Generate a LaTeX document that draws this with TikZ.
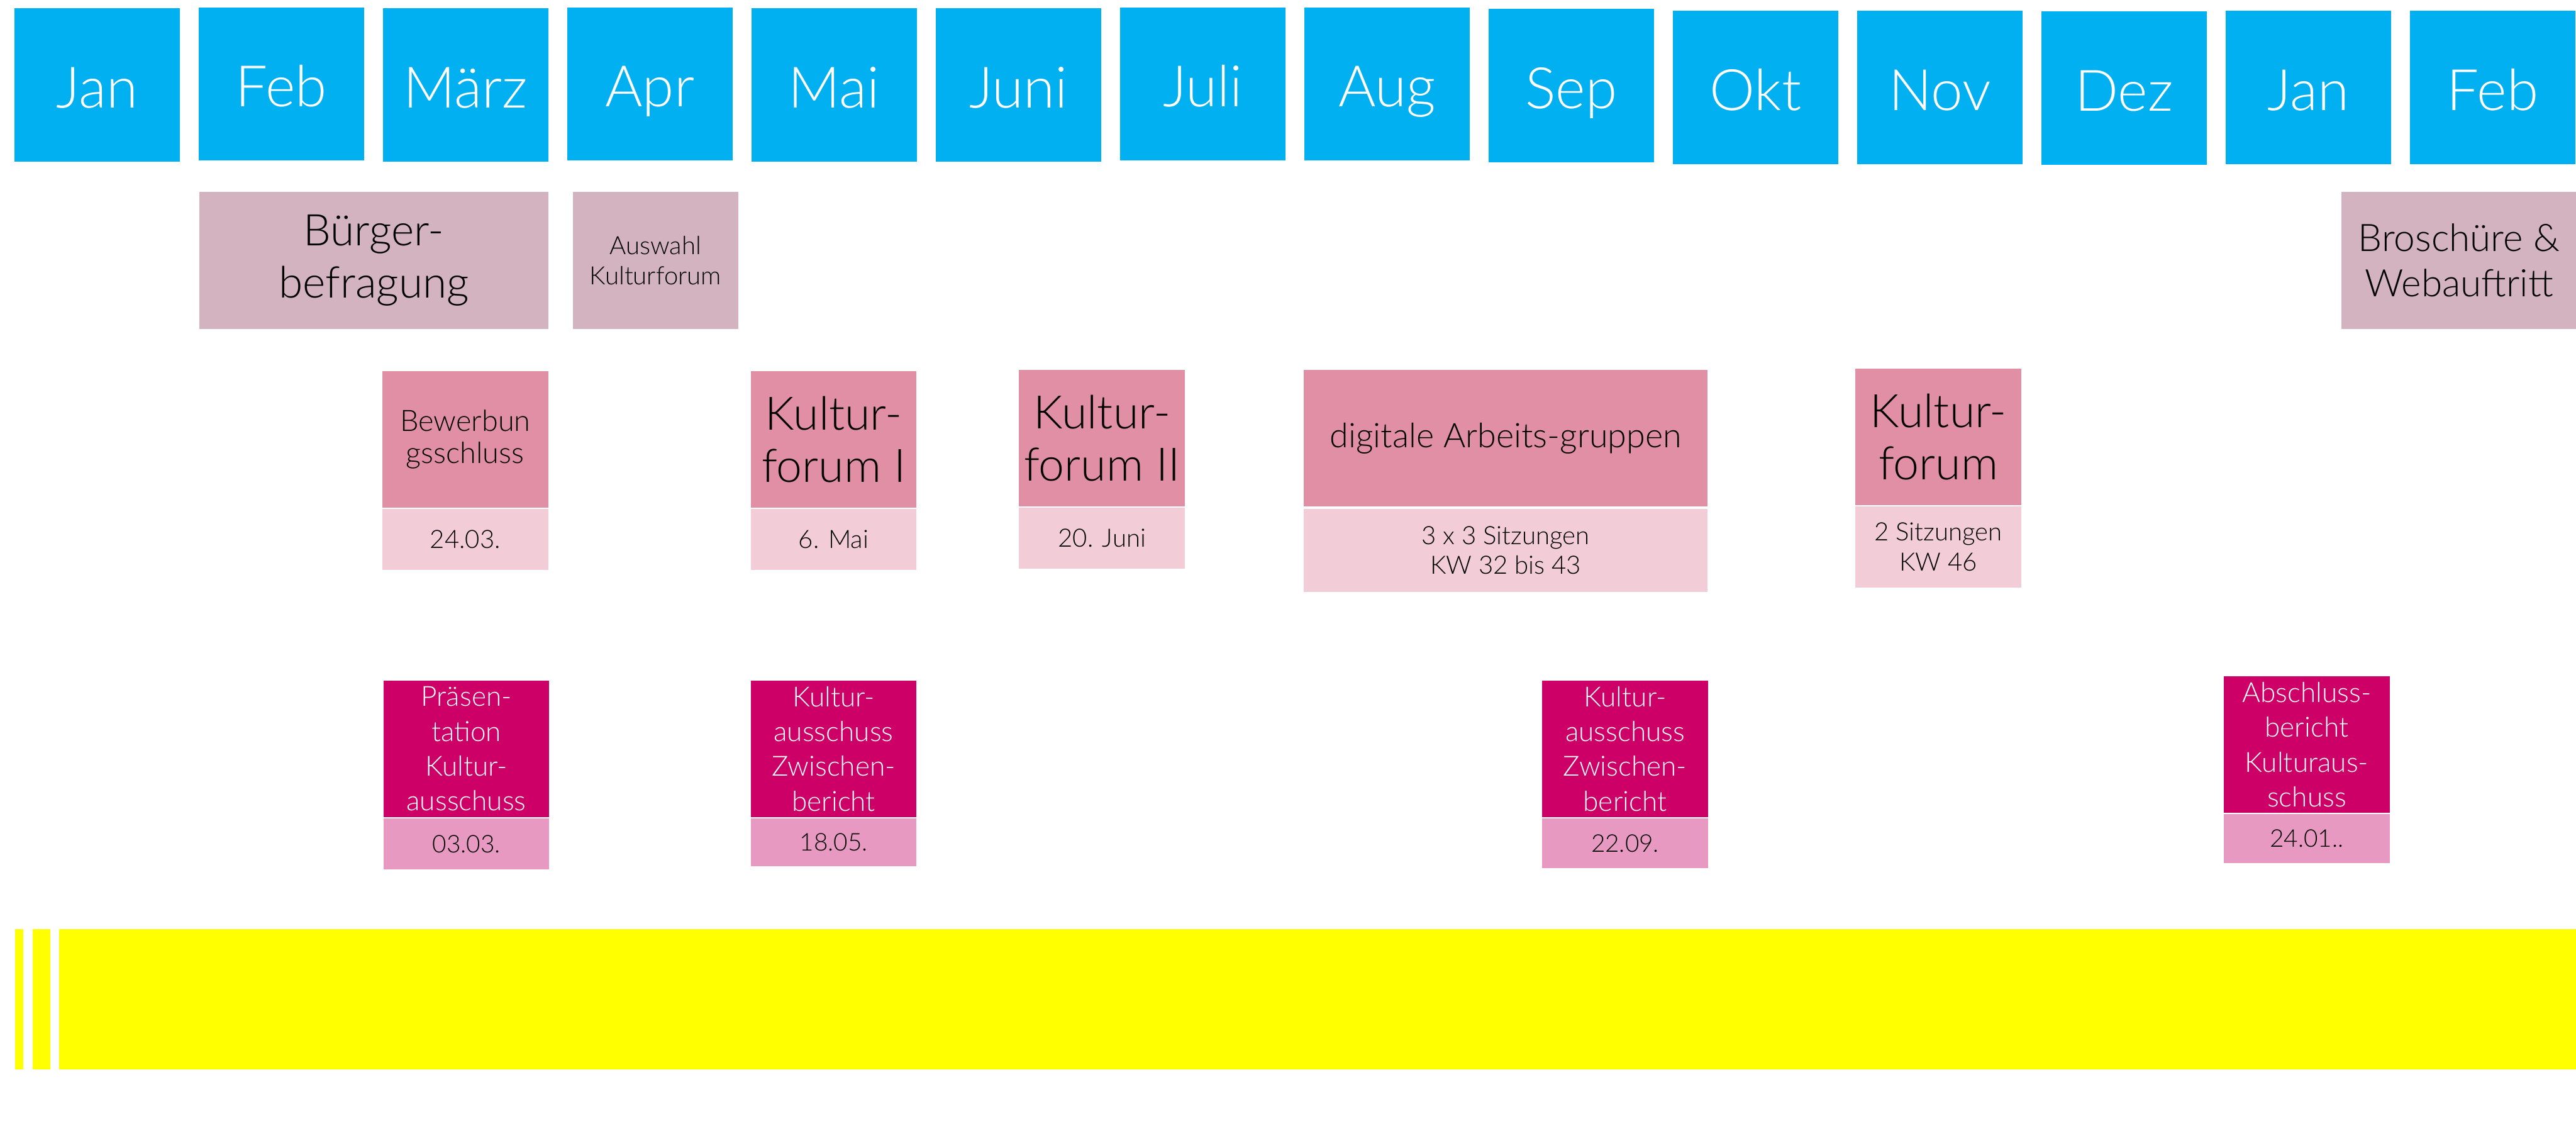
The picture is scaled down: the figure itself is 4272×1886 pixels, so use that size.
\documentclass[tikz,border=0pt]{standalone}
\usepackage{fontspec}
\setmainfont{Lato Light}
\usetikzlibrary{positioning}
\definecolor{monthblue}{HTML}{00B0F0}
\definecolor{phasemauve}{HTML}{D3B3C0}
\definecolor{eventrose}{HTML}{E08FA5}
\definecolor{eventroselight}{HTML}{F2CDD8}
\definecolor{meetmagenta}{HTML}{CC0066}
\definecolor{meetroselight}{HTML}{E899C2}
\definecolor{baryellow}{HTML}{FFFF00}

\begin{document}
\begin{tikzpicture}[x=0.1mm, y=-0.1mm,
    month/.style={fill=monthblue, text=white, minimum width=2.74cm, minimum height=2.54cm, inner sep=0pt, text height=21.6pt, text depth=0pt, font=\fontsize{27}{32}\selectfont},
    phase/.style={fill=phasemauve, minimum height=2.27cm, inner sep=0pt, align=center},
    event/.style={fill=eventrose, minimum width=2.75cm, minimum height=2.27cm, inner sep=0pt, align=center},
    eventdate/.style={fill=eventroselight, minimum width=2.75cm, inner sep=0pt, align=center, font=\fontsize{11.9}{14.2}\selectfont},
    meeting/.style={fill=meetmagenta, text=white, minimum width=2.75cm, minimum height=2.27cm, inner sep=0pt, align=center, font=\fontsize{13.1}{16.4}\selectfont},
    meetdate/.style={fill=meetroselight, minimum width=2.75cm, inner sep=0pt, font=\fontsize{11.5}{13}\selectfont},
    bigtext/.style={font=\fontsize{21.8}{24.8}\selectfont}]
    \useasboundingbox (0,0) rectangle (4272,1886);
    \foreach \name/\yc [count=\i from 0] in {Jan/141,Feb/139,März/141,Apr/139,Mai/141,Juni/141,Juli/139,Aug/139,Sep/142,Okt/145,Nov/145,Dez/146,Jan/145,Feb/145}
      \node[month] (m\i) at ({161+305.6*\i},\yc) {\name};

    \node[phase, minimum width=5.78cm, font=\fontsize{20.6}{24.8}\selectfont] (befr) at (620,431.5) {Bürger-\\befragung};
    \node[phase, minimum width=2.74cm, font=\fontsize{11.9}{14.2}\selectfont] (ausw) at (1087,431.5) {Auswahl\\Kulturforum};
    \node[phase, minimum width=3.9cm, font=\fontsize{17.9}{21.3}\selectfont] (web) at (4078,431.5) {Broschüre \&\\Webauftritt};

    \node[event, font=\fontsize{13.9}{15.1}\selectfont] (bew) at (771.5,728.5) {Bewerbun\\gsschluss};
    \node[eventdate, minimum height=1.01cm, below=0pt of bew] (bewd) {24.03.};
    \node[event, bigtext] (kf1) at (1382.5,728.5) {Kultur-\\forum I};
    \node[eventdate, minimum height=1.01cm, below=0pt of kf1] (kf1d) {6. Mai};
    \node[event, bigtext] (kf2) at (1827.5,726.5) {Kultur-\\forum II};
    \node[eventdate, minimum height=1.01cm, below=0pt of kf2] (kf2d) {20. Juni};
    \node[event, minimum width=6.7cm, font=\fontsize{16}{19}\selectfont] (dag) at (2497,726.5) {digitale Arbeits-gruppen};
    \node[eventdate, minimum width=6.7cm, minimum height=1.38cm, below=0.2mm of dag] (dagd) {3 x 3 Sitzungen\\KW 32 bis 43};
    \node[event, bigtext] (kf3) at (3214.5,724.5) {Kultur-\\forum};
    \node[eventdate, minimum height=1.35cm, below=0pt of kf3] (kf3d) {2 Sitzungen\\KW 46};

    \node[meeting] (praes) at (773.5,1241.5) {Präsen-\\tation\\Kultur-\\ausschuss};
    \node[meetdate, minimum height=0.85cm, below=0pt of praes] (praesd) {03.03.};
    \node[meeting] (zwb1) at (1382.5,1241.5) {Kultur-\\ausschuss\\Zwischen-\\bericht};
    \node[meetdate, minimum height=0.8cm, below=0pt of zwb1] (zwb1d) {18.05.};
    \node[meeting] (zwb2) at (2695,1241.5) {Kultur-\\ausschuss\\Zwischen-\\bericht};
    \node[meetdate, minimum height=0.83cm, below=0pt of zwb2] (zwb2d) {22.09.};
    \node[meeting] (absb) at (3825.5,1234.5) {Abschluss-\\bericht\\Kulturaus-\\schuss};
    \node[meetdate, minimum height=0.82cm, below=0pt of absb] (absbd) {24.01..};

    \fill[baryellow] (25,1540) rectangle (39,1773);
    \fill[baryellow] (54,1540) rectangle (83,1773);
    \fill[baryellow] (98,1540) rectangle (4272,1773);
  \end{tikzpicture}
\end{document}
